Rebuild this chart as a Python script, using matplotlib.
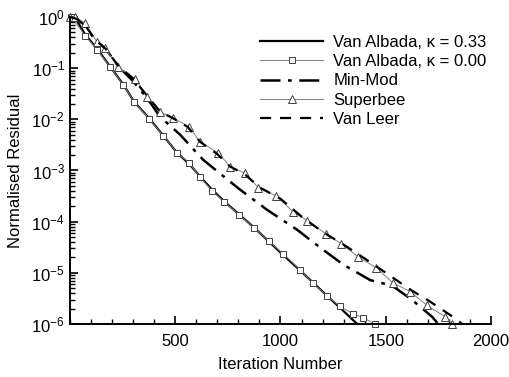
import matplotlib
matplotlib.use("Agg")
import matplotlib.pyplot as plt
import numpy as np
from matplotlib.ticker import MultipleLocator, FixedLocator, NullFormatter

plt.rcParams['font.family'] = ['Liberation Sans', 'DejaVu Sans']
plt.rcParams['mathtext.fontset'] = 'custom'
plt.rcParams['mathtext.rm'] = 'Liberation Sans'
plt.rcParams['mathtext.it'] = 'Liberation Sans:italic'

# Van Albada, kappa = 0.33 (solid)
va33_x = [0, 30, 74, 130, 192, 254, 306, 377, 444, 510, 567, 619, 676, 733, 804, 876, 1000, 1100, 1200, 1300, 1364]
va33_y = [1.0, 0.9, 0.45, 0.24, 0.107, 0.048, 0.022, 0.0105, 0.0048, 0.0022, 0.00135, 0.00076,
          0.00042, 0.00025, 0.000138, 7.6e-5, 2.5e-5, 1.05e-5, 4.3e-6, 1.78e-6, 1.0e-6]

# Van Albada, kappa = 0.00 (squares)
va00_x = [7, 74, 130, 192, 254, 306, 377, 444, 510, 567, 619, 676, 733, 804, 876, 946, 1013,
          1093, 1155, 1221, 1283, 1345, 1393, 1449]
va00_y = [1.0, 0.43, 0.23, 0.105, 0.047, 0.022, 0.0102, 0.0048, 0.0022, 0.0014, 0.00074,
          0.0004, 0.000245, 0.000135, 7.6e-5, 4.1e-5, 2.35e-5, 1.15e-5, 6.3e-6, 3.55e-6,
          2.2e-6, 1.58e-6, 1.32e-6, 1.0e-6]

# Min-Mod (dash-dot)
mm_x = [0, 30, 70, 120, 170, 230, 300, 370, 429, 524, 633, 705, 809, 937, 1080, 1189, 1298,
        1426, 1530, 1625, 1720, 1749]
mm_y = [1.0, 0.93, 0.7, 0.36, 0.24, 0.11, 0.056, 0.025, 0.0112, 0.005, 0.00162, 0.00093,
        0.00042, 0.00017, 6.9e-5, 3.1e-5, 1.45e-5, 7.2e-6, 5.6e-6, 2.95e-6, 1.38e-6, 1.0e-6]

# Superbee (triangles)
sb_x = [2, 26, 74, 130, 168, 230, 311, 368, 429, 491, 567, 619, 705, 762, 833, 895, 980,
        1061, 1127, 1217, 1288, 1369, 1454, 1535, 1616, 1696, 1782, 1815]
sb_y = [1.0, 1.0, 0.76, 0.32, 0.245, 0.105, 0.062, 0.0275, 0.0138, 0.0107, 0.0071, 0.0036,
        0.0022, 0.00117, 0.00089, 0.00046, 0.00032, 0.000155, 0.000105, 5.75e-5, 3.7e-5,
        2.05e-5, 1.26e-5, 6.3e-6, 4.3e-6, 2.3e-6, 1.38e-6, 1.0e-6]

# Van Leer (dashed)
vl_x = [0, 30, 70, 120, 170, 230, 300, 370, 430, 490, 560, 620, 700, 760, 830, 900, 1000,
        1100, 1200, 1300, 1400, 1500, 1616, 1698, 1768, 1840, 1862]
vl_y = [1.0, 0.93, 0.72, 0.36, 0.24, 0.112, 0.063, 0.028, 0.014, 0.0105, 0.0071, 0.0036,
        0.0021, 0.0012, 0.00085, 0.00047, 0.00028, 0.000126, 6.3e-5, 3.55e-5, 1.9e-5,
        1.0e-5, 4.7e-6, 2.95e-6, 1.9e-6, 1.2e-6, 1.0e-6]

x_ticks = [500, 1000, 1500, 2000]
y_ticks = [1e-6, 1e-5, 1e-4, 1e-3, 1e-2, 1e-1, 1e0]

fig = plt.figure(figsize=(5.09, 3.77), dpi=100)
ax = fig.add_axes([0.137, 0.1406, 0.828, 0.8143])

ax.plot(va33_x, va33_y, color='black', lw=1.6, label='Van Albada, κ = 0.33', clip_on=False)
ax.plot(va00_x, va00_y, color='#808080', lw=0.7, marker='s', ms=5, mfc='white',
        mec='#404040', mew=0.7, label='Van Albada, κ = 0.00', clip_on=False)
ax.plot(mm_x, mm_y, color='black', lw=1.8, dashes=(8, 3, 1.5, 3), label='Min-Mod', clip_on=False)
ax.plot(sb_x, sb_y, color='#808080', lw=0.7, marker='^', ms=6, mfc='white',
        mec='#404040', mew=0.7, label='Superbee', clip_on=False)
ax.plot(vl_x, vl_y, color='black', lw=1.6, dashes=(5, 4), label='Van Leer', clip_on=False)

ax.set_yscale('log')
ax.set_xlim(0, 2000)
ax.set_ylim(1e-6, 1)
ax.set_xticks(x_ticks)
ax.xaxis.set_minor_locator(MultipleLocator(100))
ax.set_yticks(y_ticks)
minor_y = [m * 10.0**e for e in range(-6, 0) for m in range(2, 10)]
ax.yaxis.set_minor_locator(FixedLocator(minor_y))
ax.yaxis.set_minor_formatter(NullFormatter())

for s in ['top', 'right']:
    ax.spines[s].set_visible(False)
for s in ['left', 'bottom']:
    ax.spines[s].set_linewidth(1.4)

ax.tick_params(which='major', direction='in', length=6, width=1.2, labelsize=12)
ax.tick_params(which='minor', direction='in', length=3.5, width=1.0)
ax.tick_params(axis='x', pad=7)

ax.set_xlabel('Iteration Number', fontsize=12, labelpad=6)
ax.set_ylabel('Normalised Residual', fontsize=12, labelpad=6)

ax.legend(loc='upper right', bbox_to_anchor=(1.025, 0.99), frameon=False, fontsize=12,
          handlelength=3.8, labelspacing=0.25, handletextpad=0.6)

fig.savefig('out.png', dpi=100)
